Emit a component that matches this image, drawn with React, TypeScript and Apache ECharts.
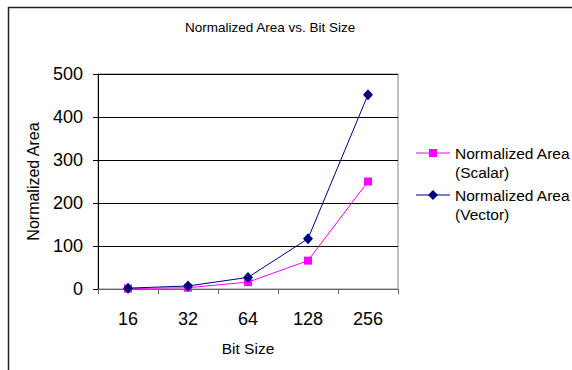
import React, { useEffect, useRef } from "react";
import * as echarts from "echarts";

const categories = ["16", "32", "64", "128", "256"];
const scalarValues = [1, 3, 16, 66, 250];
const vectorValues = [2, 7, 27, 117, 452];
const seriesNames = ["Normalized Area\n(Scalar)", "Normalized Area\n(Vector)"];
const yTicks = { min: 0, max: 500, interval: 100 };

const FONT = "Liberation Sans, Arial, sans-serif";
const MAGENTA = "#ff00ff";
const NAVY = "#000080";

export default function App() {
  const ref = useRef<HTMLDivElement>(null);
  useEffect(() => {
    if (!ref.current) return;
    const chart = echarts.init(ref.current, null, { renderer: "svg" });
    const legendItems = [
      { name: seriesNames[0], color: MAGENTA, symbol: "square", y: 153 },
      { name: seriesNames[1], color: NAVY, symbol: "diamond", y: 195 },
    ];
    const graphics: any[] = [
      {
        type: "rect",
        shape: { x: 8.5, y: 7.5, width: 700, height: 500 },
        style: { fill: "none", stroke: "#222", lineWidth: 1.5 },
        silent: true,
      },
    ];
    legendItems.forEach((it) => {
      graphics.push({
        type: "line",
        shape: { x1: 416, y1: it.y, x2: 450, y2: it.y },
        style: { stroke: it.color, lineWidth: 1 },
      });
      if (it.symbol === "square") {
        graphics.push({
          type: "rect",
          shape: { x: 429, y: it.y - 4, width: 8, height: 8 },
          style: { fill: it.color },
        });
      } else {
        graphics.push({
          type: "polygon",
          shape: {
            points: [
              [433, it.y - 5],
              [438, it.y],
              [433, it.y + 5],
              [428, it.y],
            ],
          },
          style: { fill: it.color },
        });
      }
      graphics.push({
        type: "text",
        x: 455,
        y: it.y - 9.5,
        style: {
          text: it.name,
          fontSize: 15.5,
          fontFamily: FONT,
          fill: "#000",
          lineHeight: 19,
          textVerticalAlign: "top",
        },
      });
    });

    chart.setOption({
      animation: false,
      backgroundColor: "#fff",
      title: {
        text: "Normalized Area vs. Bit Size",
        left: 185,
        top: 20,
        padding: 0,
        textStyle: { fontSize: 13.5, fontWeight: "normal", fontFamily: FONT, color: "#000" },
      },
      grid: { left: 98, top: 74, width: 300, height: 215, show: true, borderColor: "#888", borderWidth: 1 },
      xAxis: {
        type: "category",
        data: categories,
        boundaryGap: true,
        name: "Bit Size",
        nameLocation: "middle",
        nameGap: 51,
        nameTextStyle: { fontSize: 15.5, fontFamily: FONT, color: "#000" },
        axisLine: { lineStyle: { color: "#666", width: 1 } },
        axisTick: { show: true, length: 5, interval: 0, lineStyle: { color: "#666" } },
        axisLabel: { fontSize: 18, fontFamily: FONT, color: "#000", margin: 21 },
      },
      yAxis: {
        type: "value",
        min: yTicks.min,
        max: yTicks.max,
        interval: yTicks.interval,
        name: "Normalized Area",
        nameLocation: "middle",
        nameGap: 57,
        nameTextStyle: { fontSize: 16, fontFamily: FONT, color: "#000" },
        axisLine: { show: true, lineStyle: { color: "#000", width: 1 } },
        axisTick: { show: true, length: 5, lineStyle: { color: "#000" } },
        axisLabel: { fontSize: 18, fontFamily: FONT, color: "#000", margin: 15 },
        splitLine: { show: true, lineStyle: { color: "#000", width: 1 } },
      },
      series: [
        {
          name: seriesNames[0],
          type: "line",
          data: scalarValues,
          symbol: "rect",
          symbolSize: 8,
          lineStyle: { color: MAGENTA, width: 1 },
          itemStyle: { color: MAGENTA },
          z: 3,
        },
        {
          name: seriesNames[1],
          type: "line",
          data: vectorValues,
          symbol: "diamond",
          symbolSize: [10, 11],
          lineStyle: { color: NAVY, width: 1 },
          itemStyle: { color: NAVY },
          z: 4,
        },
      ],
      graphic: graphics,
    });
    return () => chart.dispose();
  }, []);
  return <div ref={ref} style={{ position: "fixed", left: 0, top: 0, width: 572, height: 370 }} />;
}
